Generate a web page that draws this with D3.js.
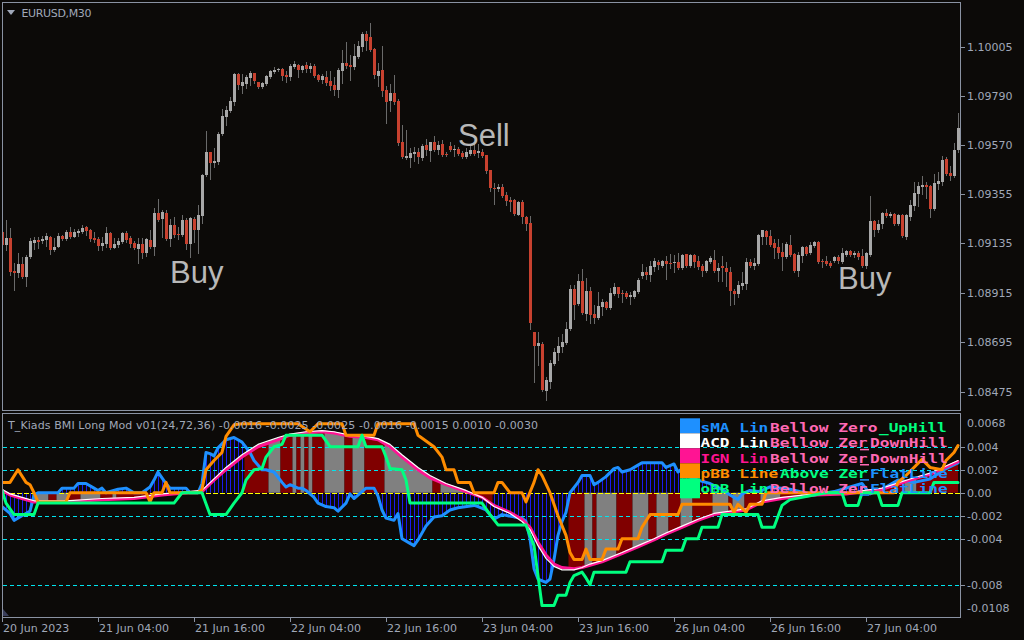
<!DOCTYPE html>
<html><head><meta charset="utf-8">
<script src="https://cdn.jsdelivr.net/npm/d3@7"></script>
<style>body{margin:0;background:#0c0a08;}svg{display:block}</style>
</head><body>
<svg id="c" width="1024" height="640"></svg>
<script>
// ---------- price data (EURUSD M30) ----------
const open=[1.09185,1.09127,1.09158,1.09012,1.09003,1.09043,1.08985,1.09074,1.09136,1.09149,
1.09145,1.09149,1.09163,1.09105,1.09118,1.09167,1.09154,1.09185,1.09163,1.09181,
1.09185,1.09207,1.09194,1.09158,1.09154,1.09122,1.09131,1.09181,1.09113,1.09127,
1.09140,1.09181,1.09158,1.09136,1.09109,1.09131,1.09092,1.09149,1.09118,1.09270,
1.09243,1.09270,1.09154,1.09216,1.09176,1.09172,1.09238,1.09131,1.09243,1.09194,
1.09256,1.09438,1.09540,1.09492,1.09496,1.09620,1.09696,1.09722,1.09762,1.09886,
1.09833,1.09842,1.09869,1.09891,1.09851,1.09829,1.09842,1.09873,1.09895,1.09904,
1.09909,1.09882,1.09873,1.09918,1.09926,1.09904,1.09926,1.09909,1.09922,1.09882,
1.09860,1.09873,1.09855,1.09838,1.09815,1.09900,1.09935,1.09926,1.09918,1.09962,
1.10006,1.10064,1.10051,1.09997,1.09878,1.09904,1.09815,1.09767,1.09802,1.09767,
1.09584,1.09513,1.09513,1.09531,1.09540,1.09513,1.09571,1.09545,1.09584,1.09549,
1.09575,1.09531,1.09566,1.09549,1.09553,1.09536,1.09518,1.09531,1.09549,1.09536,
1.09540,1.09527,1.09460,1.09380,1.09376,1.09385,1.09349,1.09327,1.09327,1.09261,
1.09318,1.09252,1.09225,1.08741,1.08678,1.08687,1.08479,1.08519,1.08599,1.08648,
1.08674,1.08692,1.08754,1.08932,1.08865,1.08968,1.08821,1.08923,1.08821,1.08803,
1.08852,1.08874,1.08848,1.08909,1.08941,1.08914,1.08914,1.08896,1.08896,1.08918,
1.08989,1.09007,1.08994,1.09030,1.09052,1.09034,1.09056,1.09048,1.09048,1.09052,
1.09025,1.09087,1.09034,1.09083,1.09056,1.09034,1.09012,1.09052,1.09061,1.09012,
1.09034,1.09025,1.09007,1.08923,1.08909,1.08945,1.08954,1.09052,1.09034,1.09043,
1.09163,1.09190,1.09167,1.09136,1.09118,1.09096,1.09074,1.09127,1.09087,1.09012,
1.09078,1.09118,1.09092,1.09122,1.09140,1.09056,1.09056,1.09048,1.09056,1.09074,
1.09052,1.09083,1.09101,1.09083,1.09092,1.09078,1.09034,1.09083,1.09234,1.09194,
1.09220,1.09270,1.09256,1.09265,1.09220,1.09261,1.09163,1.09252,1.09300,1.09353,
1.09385,1.09394,1.09389,1.09287,1.09398,1.09407,1.09509,1.09447,1.09433,1.09549];
const high=[1.09202,1.09238,1.09202,1.09048,1.09092,1.09074,1.09083,1.09158,1.09163,1.09163,
1.09167,1.09181,1.09167,1.09158,1.09181,1.09172,1.09194,1.09207,1.09198,1.09198,
1.09216,1.09211,1.09198,1.09185,1.09163,1.09163,1.09207,1.09185,1.09158,1.09158,
1.09185,1.09190,1.09167,1.09145,1.09158,1.09158,1.09158,1.09194,1.09291,1.09331,
1.09283,1.09283,1.09243,1.09252,1.09207,1.09261,1.09247,1.09252,1.09252,1.09305,
1.09442,1.09634,1.09540,1.09557,1.09629,1.09731,1.09744,1.09784,1.09891,1.09891,
1.09886,1.09882,1.09900,1.09891,1.09851,1.09851,1.09882,1.09904,1.09918,1.09913,
1.09913,1.09900,1.09931,1.09944,1.09931,1.09926,1.09940,1.09935,1.09931,1.09886,
1.09886,1.09900,1.09900,1.09873,1.09913,1.09993,1.10028,1.09971,1.10019,1.10033,
1.10073,1.10077,1.10113,1.10001,1.09935,1.10010,1.09833,1.09842,1.09882,1.09775,
1.09660,1.09638,1.09557,1.09562,1.09557,1.09575,1.09598,1.09584,1.09611,1.09589,
1.09593,1.09540,1.09584,1.09571,1.09562,1.09545,1.09557,1.09575,1.09575,1.09575,
1.09553,1.09527,1.09460,1.09403,1.09398,1.09398,1.09362,1.09340,1.09331,1.09323,
1.09327,1.09256,1.09256,1.08741,1.08741,1.08696,1.08541,1.08617,1.08670,1.08719,
1.08732,1.08785,1.08950,1.08950,1.08998,1.09021,1.08980,1.08941,1.08861,1.08918,
1.08887,1.08879,1.08936,1.08959,1.08941,1.08927,1.08923,1.08918,1.08927,1.08980,
1.09043,1.09030,1.09056,1.09069,1.09061,1.09061,1.09078,1.09087,1.09083,1.09092,
1.09087,1.09087,1.09087,1.09087,1.09078,1.09043,1.09061,1.09078,1.09105,1.09048,
1.09078,1.09052,1.09030,1.08932,1.08968,1.09007,1.09069,1.09065,1.09069,1.09176,
1.09194,1.09194,1.09194,1.09154,1.09154,1.09136,1.09140,1.09172,1.09092,1.09096,
1.09122,1.09122,1.09140,1.09145,1.09145,1.09065,1.09078,1.09056,1.09078,1.09083,
1.09113,1.09105,1.09105,1.09101,1.09101,1.09109,1.09096,1.09344,1.09238,1.09238,
1.09274,1.09287,1.09274,1.09270,1.09265,1.09265,1.09265,1.09327,1.09407,1.09407,
1.09433,1.09407,1.09394,1.09442,1.09451,1.09522,1.09518,1.09478,1.09580,1.09714];
const low=[1.09105,1.09105,1.08994,1.08927,1.08985,1.08980,1.08945,1.09069,1.09109,1.09113,
1.09136,1.09122,1.09087,1.09101,1.09118,1.09149,1.09149,1.09158,1.09163,1.09167,
1.09181,1.09172,1.09145,1.09140,1.09105,1.09105,1.09118,1.09109,1.09113,1.09118,
1.09136,1.09140,1.09118,1.09109,1.09048,1.09069,1.09078,1.09113,1.09083,1.09234,
1.09163,1.09149,1.09122,1.09163,1.09154,1.09167,1.09109,1.09074,1.09140,1.09092,
1.09225,1.09433,1.09420,1.09474,1.09487,1.09616,1.09660,1.09718,1.09749,1.09820,
1.09802,1.09824,1.09838,1.09846,1.09824,1.09824,1.09838,1.09869,1.09891,1.09900,
1.09860,1.09851,1.09860,1.09913,1.09873,1.09895,1.09895,1.09895,1.09873,1.09855,
1.09846,1.09838,1.09815,1.09793,1.09784,1.09846,1.09913,1.09860,1.09909,1.09957,
1.09988,1.09993,1.09988,1.09869,1.09833,1.09789,1.09669,1.09722,1.09753,1.09571,
1.09513,1.09509,1.09474,1.09501,1.09492,1.09505,1.09527,1.09501,1.09545,1.09531,
1.09522,1.09522,1.09545,1.09522,1.09527,1.09513,1.09513,1.09527,1.09527,1.09518,
1.09518,1.09447,1.09367,1.09309,1.09367,1.09340,1.09305,1.09278,1.09261,1.09261,
1.09225,1.09194,1.08754,1.08519,1.08595,1.08479,1.08439,1.08492,1.08595,1.08617,
1.08652,1.08687,1.08750,1.08799,1.08861,1.08821,1.08794,1.08781,1.08781,1.08799,
1.08817,1.08843,1.08843,1.08905,1.08896,1.08874,1.08892,1.08865,1.08892,1.08914,
1.08980,1.08976,1.08968,1.09012,1.09021,1.09030,1.08976,1.09025,1.09007,1.09021,
1.09021,1.09030,1.09030,1.09030,1.09021,1.08989,1.09007,1.09048,1.09007,1.08968,
1.08968,1.08945,1.08861,1.08865,1.08896,1.08932,1.08932,1.09030,1.09021,1.09039,
1.09131,1.09131,1.09122,1.09069,1.09069,1.09016,1.09069,1.09078,1.09007,1.08989,
1.09052,1.09083,1.09087,1.09118,1.09048,1.09030,1.09039,1.09030,1.09052,1.09048,
1.09048,1.09078,1.09078,1.09074,1.09065,1.09030,1.09025,1.09078,1.09167,1.09185,
1.09202,1.09252,1.09252,1.09216,1.09216,1.09163,1.09154,1.09238,1.09283,1.09300,
1.09353,1.09336,1.09252,1.09283,1.09376,1.09394,1.09438,1.09416,1.09429,1.09540];
const close=[1.09127,1.09158,1.09007,1.09003,1.09043,1.08985,1.09074,1.09145,1.09149,1.09140,
1.09154,1.09167,1.09105,1.09118,1.09167,1.09154,1.09185,1.09163,1.09185,1.09190,
1.09202,1.09190,1.09154,1.09149,1.09122,1.09136,1.09181,1.09113,1.09131,1.09145,
1.09181,1.09149,1.09131,1.09113,1.09131,1.09092,1.09154,1.09118,1.09270,1.09238,
1.09274,1.09154,1.09216,1.09172,1.09172,1.09238,1.09131,1.09247,1.09194,1.09261,
1.09438,1.09540,1.09492,1.09501,1.09620,1.09700,1.09727,1.09767,1.09886,1.09838,
1.09851,1.09873,1.09891,1.09855,1.09829,1.09846,1.09878,1.09900,1.09904,1.09909,
1.09878,1.09873,1.09922,1.09931,1.09904,1.09922,1.09909,1.09922,1.09878,1.09860,
1.09878,1.09846,1.09833,1.09815,1.09904,1.09935,1.09922,1.09918,1.09966,1.10010,
1.10064,1.10033,1.09993,1.09882,1.09900,1.09811,1.09762,1.09802,1.09762,1.09580,
1.09518,1.09522,1.09536,1.09540,1.09518,1.09566,1.09549,1.09584,1.09549,1.09571,
1.09527,1.09527,1.09549,1.09553,1.09531,1.09518,1.09540,1.09549,1.09531,1.09545,
1.09522,1.09456,1.09380,1.09376,1.09385,1.09344,1.09323,1.09318,1.09265,1.09318,
1.09252,1.09220,1.08781,1.08678,1.08692,1.08483,1.08528,1.08604,1.08652,1.08678,
1.08696,1.08754,1.08932,1.08861,1.08968,1.08826,1.08923,1.08817,1.08803,1.08857,
1.08874,1.08848,1.08914,1.08941,1.08909,1.08909,1.08896,1.08905,1.08923,1.08972,
1.09007,1.08994,1.09034,1.09056,1.09039,1.09056,1.09043,1.09043,1.09052,1.09025,
1.09083,1.09034,1.09083,1.09052,1.09030,1.09012,1.09056,1.09069,1.09012,1.09025,
1.09025,1.09007,1.08923,1.08909,1.08950,1.08959,1.09052,1.09034,1.09048,1.09172,
1.09194,1.09163,1.09127,1.09113,1.09092,1.09074,1.09131,1.09083,1.09012,1.09083,
1.09118,1.09087,1.09127,1.09140,1.09052,1.09052,1.09043,1.09034,1.09074,1.09056,
1.09092,1.09101,1.09083,1.09092,1.09074,1.09034,1.09092,1.09234,1.09194,1.09220,
1.09270,1.09256,1.09265,1.09220,1.09261,1.09167,1.09261,1.09305,1.09358,1.09389,
1.09394,1.09385,1.09287,1.09403,1.09411,1.09505,1.09442,1.09433,1.09549,1.09646];

// ---------- axes ----------
const priceTicks=[1.10005,1.09790,1.09570,1.09355,1.09135,1.08915,1.08695,1.08475];
const timeTickBars=[0,24,48,72,96,120,144,168,192,216];
const timeTickLabels=["20 Jun 2023","21 Jun 04:00","21 Jun 16:00","22 Jun 04:00","22 Jun 16:00","23 Jun 04:00","23 Jun 16:00","26 Jun 04:00","26 Jun 16:00","27 Jun 04:00"];
const indTicks=[0.0068,0.004,0.002,0,-0.002,-0.004,-0.008,-0.0108];
const indTickLabels=["0.0068","0.004","0.002","0.00","-0.002","-0.004","-0.008","-0.0108"];
const indLevels=[0.004,0.002,-0.002,-0.004,-0.008];

// ---------- indicator lines (bar index, value) ----------
const smaBars=[0,2,3,5,7,8,9,14,15,18,19,21,23,24,25,26,29,31,33,35,37,38,39,40,41,42,46,47,49,50,51,52,53,54,56,58,60,62,63,65,66,68,70,71,72,74,75,76,78,79,81,83,84,86,87,88,89,91,93,94,95,96,98,99,100,102,103,104,106,108,110,112,114,118,119,121,123,125,128,130,131,132,133,134,136,137,138,139,140,141,142,144,145,147,148,149,151,153,154,155,157,159,160,165,166,168,169,170,171,174,177,180,182,184,185,187,189,190,192,197,203,208,215,217,220,224,228,232,236,239];
const smaVals=[-0.0012,-0.0018,-0.0024,-0.0020,-0.0016,-0.0002,0,0,0.0004,0.0004,0.0008,0.0008,0.0004,0.0002,0.0004,0,0.0003,0.0004,0,0,0.0005,0.0011,0.0018,0.0013,0.0008,0.0004,0.0004,0,0,0.0008,0.0035,0.0034,0.0032,0.0039,0.0046,0.0048,0.0044,0.0035,0.0028,0.0020,0.0020,0.0018,0.0009,0.0005,0.0007,0.0004,0.0004,0.0002,-0.0004,-0.0009,-0.0012,-0.0013,-0.0016,-0.0009,-0.0001,-0.0005,-0.0002,0.0004,0.0004,-0.0003,-0.0015,-0.0022,-0.0024,-0.0018,-0.0040,-0.0044,-0.0046,-0.0041,-0.0029,-0.0021,-0.0020,-0.0015,-0.0013,-0.0011,-0.0012,-0.0015,-0.0023,-0.0019,-0.0021,-0.0022,-0.0025,-0.0040,-0.0066,-0.0075,-0.0078,-0.0075,-0.0058,-0.0037,-0.0025,-0.0017,0,0.0009,0.0015,0.0015,0.0007,0.0009,0.0014,0.0021,0.0022,0.0018,0.0020,0.0024,0.0026,0.0026,0.0022,0.0025,0.0018,0.0021,0.0015,0.0011,0.0008,0.0003,-0.0002,-0.0006,-0.0001,0.0002,0.0001,0.0002,0.0005,0.0003,-0.0002,0.0001,0.0008,-0.0001,0.0003,0.0011,0.0009,0.0012,0.0021,0.0026];
const ignBars=[0,2,5,8,16,25,33,40,50,53,56,60,64,69,72,76,80,83,87,91,94,97,100,104,107,111,116,120,123,127,130,132,134,136,138,140,143,145,147,150,155,159,163,166,170,174,178,182,186,190,195,203,211,220,228,232,239];
const ignVals=[0.0002,-0.0002,-0.0005,-0.0008,-0.0008,-0.0006,-0.0005,-0.0002,0.0001,0.0011,0.0020,0.0031,0.0040,0.0046,0.0050,0.0052,0.0053,0.0052,0.0049,0.0048,0.0046,0.0040,0.0031,0.0020,0.0013,0.0007,0.0001,-0.0004,-0.0011,-0.0017,-0.0023,-0.0030,-0.0043,-0.0054,-0.0062,-0.0065,-0.0066,-0.0065,-0.0063,-0.0060,-0.0053,-0.0047,-0.0041,-0.0036,-0.0030,-0.0024,-0.0019,-0.0017,-0.0015,-0.0008,-0.0005,-0.0002,-0.0001,0.0003,0.0012,0.0016,0.0027];
const acdBars=ignBars;
const acdVals=[0.0003,-0.0001,-0.0004,-0.0007,-0.0007,-0.0005,-0.0004,-0.0001,0.0002,0.0012,0.0022,0.0033,0.0042,0.0048,0.0051,0.0053,0.0054,0.0053,0.0050,0.0049,0.0047,0.0042,0.0033,0.0022,0.0015,0.0008,0.0002,-0.0004,-0.0012,-0.0018,-0.0025,-0.0032,-0.0046,-0.0057,-0.0064,-0.0067,-0.0067,-0.0065,-0.0062,-0.0059,-0.0052,-0.0046,-0.0040,-0.0035,-0.0029,-0.0023,-0.0018,-0.0016,-0.0014,-0.0007,-0.0004,-0.0001,0,0.0004,0.0013,0.0017,0.0028];
const pbbBars=[0,2,4,6,7,8,9,16,17,36,37,38,40,41,42,49,50,51,53,55,56,58,60,74,77,79,85,86,93,94,103,104,108,110,111,113,114,117,118,123,124,125,127,130,131,133,134,135,137,139,141,142,143,145,146,147,150,151,154,155,159,160,162,169,170,182,183,184,186,187,190,191,223,224,226,230,232,235,236,238,239];
const pbbVals=[0.0009,0.0009,0.0020,0.0009,0.0007,0,-0.0008,-0.0008,0,0,-0.0008,0,0,0.0009,0,0,0.0003,0.0020,0.0028,0.0035,0.0049,0.0059,0.0060,0.0060,0.0053,0.0060,0.0060,0.0050,0.0050,0.0060,0.0060,0.0050,0.0040,0.0031,0.0020,0.0020,0.0009,0.0009,0,0,0.0009,0.0009,0,0,-0.0008,0.0009,0.0020,0.0015,0,-0.0020,-0.0037,-0.0052,-0.0058,-0.0058,-0.0049,-0.0058,-0.0058,-0.0049,-0.0049,-0.0040,-0.0040,-0.0030,-0.0019,-0.0019,-0.0010,-0.0010,-0.0017,-0.0010,-0.0017,-0.0010,-0.0010,0,0,0.0009,0.0015,0.0029,0.0022,0.0020,0.0028,0.0035,0.0041];
const obbBars=[0,1,3,8,9,43,45,50,52,56,58,60,61,63,65,66,68,70,71,80,82,89,90,91,95,96,97,100,101,102,120,122,124,131,133,134,135,138,139,141,142,143,145,146,147,148,156,157,165,166,170,171,174,175,179,180,189,190,193,195,197,206,210,211,214,215,219,220,224,225,232,233,239];
const obbVals=[0.0002,-0.0009,-0.0019,-0.0019,-0.0009,-0.0009,0,0,-0.0019,-0.0019,-0.0009,0,0.0011,0.0020,0.0021,0.0031,0.0040,0.0042,0.0050,0.0050,0.0040,0.0040,0.0050,0.0040,0.0040,0.0031,0.0021,0.0020,0.0011,-0.0009,-0.0009,-0.0019,-0.0028,-0.0028,-0.0046,-0.0072,-0.0098,-0.0098,-0.0089,-0.0089,-0.0078,-0.0072,-0.0069,-0.0074,-0.0080,-0.0069,-0.0069,-0.0060,-0.0060,-0.0050,-0.0050,-0.0040,-0.0040,-0.0030,-0.0030,-0.0019,-0.0019,-0.0030,-0.0030,-0.0011,-0.0006,0,0,-0.0011,-0.0011,0,0,-0.0011,-0.0011,0,0,0.0009,0.0009];
// histogram colour runs (bar ranges)
const histStart=[8,12,14,17,20,25,28,29,35,38,41,44,47,61,67,70,73,74,75,76,77,78,81,86,88,91,96,108,110,118,142,146,148,149,154,158,162,164,167,170,173,178,182,183,186,190,195,200,206,211,217,226,229];
const histEnd=[11,13,16,19,24,27,28,34,37,40,43,46,49,66,69,72,73,74,75,76,77,80,85,87,90,95,107,109,117,122,145,147,148,153,157,161,163,166,169,172,177,181,182,185,189,194,199,205,210,216,225,228,239];
const histColor=['g','r','g','r','g','r','g','r','r','g','r','g','r','r','g','r','g','r','g','r','g','r','g','r','g','r','g','r','g','r','r','g','r','g','r','g','r','g','r','g','r','g','r','g','r','g','r','g','r','g','r','g','r'];
// legend (visible parts of the overlapping label objects)
const legNames=["sMA Lin","ACD Lin","IGN Lin","pBB Line","oBB Lin"];
const legStates=["Bellow Zero","Bellow Zer","Bellow Zer","Above Zer","Bellow Zer"];
const legTrends=["_UpHill","DownHill","DownHill","FlatLine","FlatLine"];
const legColors=["#1e90ff","#ffffff","#ff1493","#ff8c00","#00ff7f"];

// ---------- drawing ----------
const BG="#0c0a08", FRAME="#8a92a2", TXT="#a0a8b8";
const svg=d3.select("#c");
svg.append("rect").attr("width",1024).attr("height",640).attr("fill",BG);
const defs=svg.append("defs");
defs.append("clipPath").attr("id","mainclip").append("rect").attr("x",3).attr("y",3).attr("width",957).attr("height",407);
defs.append("clipPath").attr("id","indclip").append("rect").attr("x",3).attr("y",415).attr("width",957).attr("height",202);
const pat=defs.append("pattern").attr("id","hatch").attr("patternUnits","userSpaceOnUse").attr("width",4).attr("height",10);
pat.append("rect").attr("x",2).attr("y",0).attr("width",1).attr("height",10).attr("fill","#1a1aee");

const x=d3.scaleLinear().domain([0,239]).range([2,958]);
const y=d3.scaleLinear().domain([1.10005,1.08475]).range([47.3,391.7]);
const yi=d3.scaleLinear().domain([0.0068,-0.0108]).range([414.5,617]);

// main chart candles
const bars=d3.range(open.length).map(i=>({i,o:open[i],h:high[i],l:low[i],c:close[i]}));
const gm=svg.append("g").attr("clip-path","url(#mainclip)");
gm.selectAll("line.w").data(bars).join("line")
  .attr("x1",d=>Math.round(x(d.i))+0.5).attr("x2",d=>Math.round(x(d.i))+0.5)
  .attr("y1",d=>Math.round(y(d.h))).attr("y2",d=>Math.round(y(d.l))+1)
  .attr("stroke","#6a6a6a").attr("stroke-width",1);
gm.selectAll("rect.b").data(bars).join("rect")
  .attr("x",d=>Math.round(x(d.i))-1).attr("width",3)
  .attr("y",d=>Math.round(y(Math.max(d.o,d.c))))
  .attr("height",d=>Math.max(1,Math.round(Math.abs(y(d.o)-y(d.c)))))
  .attr("fill",d=>d.c>=d.o?"#a8a8a8":"#c8412f");

// annotations
const ann=[{t:"Buy",i:42,p:1.08958},{t:"Sell",i:114,p:1.09567},{t:"Buy",i:209,p:1.08932}];
svg.selectAll("text.ann").data(ann).join("text")
  .attr("x",d=>x(d.i)).attr("y",d=>y(d.p)).text(d=>d.t)
  .attr("font-family","Liberation Sans, Arial, sans-serif").attr("font-size",31)
  .attr("fill","#b8b8b8");

// symbol header
svg.append("path").attr("d","M7,10 L15,10 L11,15 Z").attr("fill",TXT);
svg.append("text").attr("x",21.5).attr("y",17).text("EURUSD,M30")
  .attr("font-family","DejaVu Sans, sans-serif").attr("font-size",11).attr("fill",TXT).attr("textLength",70);

// indicator
const gi=svg.append("g").attr("clip-path","url(#indclip)");
const pts=(b,v)=>b.map((bi,k)=>({i:bi,v:v[k]}));
const sma=pts(smaBars,smaVals), ign=pts(ignBars,ignVals), acd=pts(acdBars,acdVals), pbb=pts(pbbBars,pbbVals), obb=pts(obbBars,obbVals);
const area=d3.area().x(d=>x(d.i)).y0(yi(0)).y1(d=>yi(d.v));
gi.append("path").attr("d",area(sma)).attr("fill","url(#hatch)");
defs.append("clipPath").attr("id","acdclip").append("path").attr("d",area(acd));
const gh=gi.append("g").attr("clip-path","url(#acdclip)");
gh.selectAll("rect").data(histStart.map((s,k)=>({s,e:histEnd[k],c:histColor[k]}))).join("rect")
  .attr("x",d=>x(d.s)-1.5).attr("width",d=>x(d.e)-x(d.s)+4)
  .attr("y",414).attr("height",204).attr("fill",d=>d.c==="r"?"#800000":"#808080");
// levels
gi.selectAll("line.lv").data(indLevels).join("line")
  .attr("x1",3).attr("x2",960).attr("y1",d=>Math.round(yi(d))+0.5).attr("y2",d=>Math.round(yi(d))+0.5)
  .attr("stroke","#00e4ee").attr("stroke-dasharray","4,3");
gi.append("line").attr("x1",3).attr("x2",960).attr("y1",Math.round(yi(0))+0.5).attr("y2",Math.round(yi(0))+0.5)
  .attr("stroke","#ffff00").attr("stroke-dasharray","5,2");
// indicator title
svg.append("text").attr("x",8).attr("y",429).text("T_Kiads BMI Long Mod v01(24,72,36) -0.0016 -0.0025 -0.0025 -0.0016 -0.0015 0.0010 -0.0030")
  .attr("font-family","DejaVu Sans, sans-serif").attr("font-size",11).attr("fill",TXT).attr("textLength",530);
// lines
const line=d3.line().x(d=>x(d.i)).y(d=>yi(d.v));
const drawL=(data,col,w)=>gi.append("path").attr("d",line(data)).attr("fill","none").attr("stroke",col).attr("stroke-width",w).attr("stroke-linejoin","round").attr("stroke-linecap","round");
drawL(sma,"#1e90ff",3);
drawL(ign,"#ff1493",3);
drawL(acd,"#ffffff",1.2);
drawL(pbb,"#ff8c00",3);
drawL(obb,"#00ff7f",3);

// legend
const gl=svg.append("g").attr("clip-path","url(#indclip)");
const rowY=[418.3,433.3,448.3,463.3,478.3], rowH=[15,15,15,15,20];
const stateCol=s=>s.startsWith("Above")?"#00ff7f":"#ff69b4";
const trendCol=t=>t==="_UpHill"?"#00ff7f":(t==="DownHill"?"#ff69b4":"#1e90ff");
const CW=9.9;
legNames.forEach((n,k)=>{
  gl.append("rect").attr("x",680).attr("y",rowY[k]).attr("width",20).attr("height",rowH[k]).attr("fill",legColors[k]);
  const by=432.2+k*15.15;
  const mk=(t,xx,col,len)=>gl.append("text").attr("x",xx).attr("y",by).text(t)
    .attr("font-family","DejaVu Sans Mono, monospace").attr("font-size",13).attr("font-weight","bold")
    .attr("textLength",len).attr("lengthAdjust","spacingAndGlyphs").attr("fill",col);
  mk(n,700.5,legColors[k],n.length*CW-1.5);
  const sx=legStates[k].startsWith("Above")?780:770;
  mk(legStates[k],sx,stateCol(legStates[k]),legStates[k].length*CW-1.5);
  const tx=legTrends[k]==="_UpHill"?879:870;
  mk(legTrends[k],tx,trendCol(legTrends[k]),legTrends[k].length*CW-1.5);
  if(legTrends[k]!=="_UpHill"){
    gl.append("rect").attr("x",860).attr("y",by+1.5).attr("width",9).attr("height",1.5).attr("fill",trendCol(legTrends[k]));
  }
});

// frames
svg.append("rect").attr("x",2.5).attr("y",2.5).attr("width",958).attr("height",408).attr("fill","none").attr("stroke",FRAME);
svg.append("rect").attr("x",2.5).attr("y",413.5).attr("width",958).attr("height",204).attr("fill","none").attr("stroke",FRAME);
svg.append("path").attr("d","M3,609 L9,616 L3,616 Z").attr("fill","#3a3e5a");

// price axis
svg.selectAll("line.pt").data(priceTicks).join("line")
  .attr("x1",961).attr("x2",965).attr("y1",d=>Math.round(y(d))+0.5).attr("y2",d=>Math.round(y(d))+0.5).attr("stroke",FRAME);
svg.selectAll("text.pt").data(priceTicks).join("text")
  .attr("x",967).attr("y",d=>y(d)+4).text(d=>d.toFixed(5))
  .attr("font-family","DejaVu Sans, sans-serif").attr("font-size",11).attr("fill",TXT);
// indicator axis
svg.selectAll("line.it").data(indTicks.slice(1,7)).join("line")
  .attr("x1",961).attr("x2",965).attr("y1",d=>Math.round(yi(d))+0.5).attr("y2",d=>Math.round(yi(d))+0.5).attr("stroke",FRAME);
svg.selectAll("text.it").data(indTicks).join("text")
  .attr("x",967).attr("y",d=>Math.min(612,Math.max(427,yi(d)+4))).text((d,k)=>indTickLabels[k])
  .attr("font-family","DejaVu Sans, sans-serif").attr("font-size",11).attr("fill",TXT);
// time axis
svg.selectAll("line.tt").data(timeTickBars).join("line")
  .attr("x1",d=>Math.round(x(d))+0.5).attr("x2",d=>Math.round(x(d))+0.5).attr("y1",618).attr("y2",622).attr("stroke",FRAME);
svg.selectAll("text.tt").data(timeTickBars).join("text")
  .attr("x",d=>x(d)+1).attr("y",632).text((d,k)=>timeTickLabels[k])
  .attr("font-family","DejaVu Sans, sans-serif").attr("font-size",11).attr("fill",TXT);
</script>
</body></html>
